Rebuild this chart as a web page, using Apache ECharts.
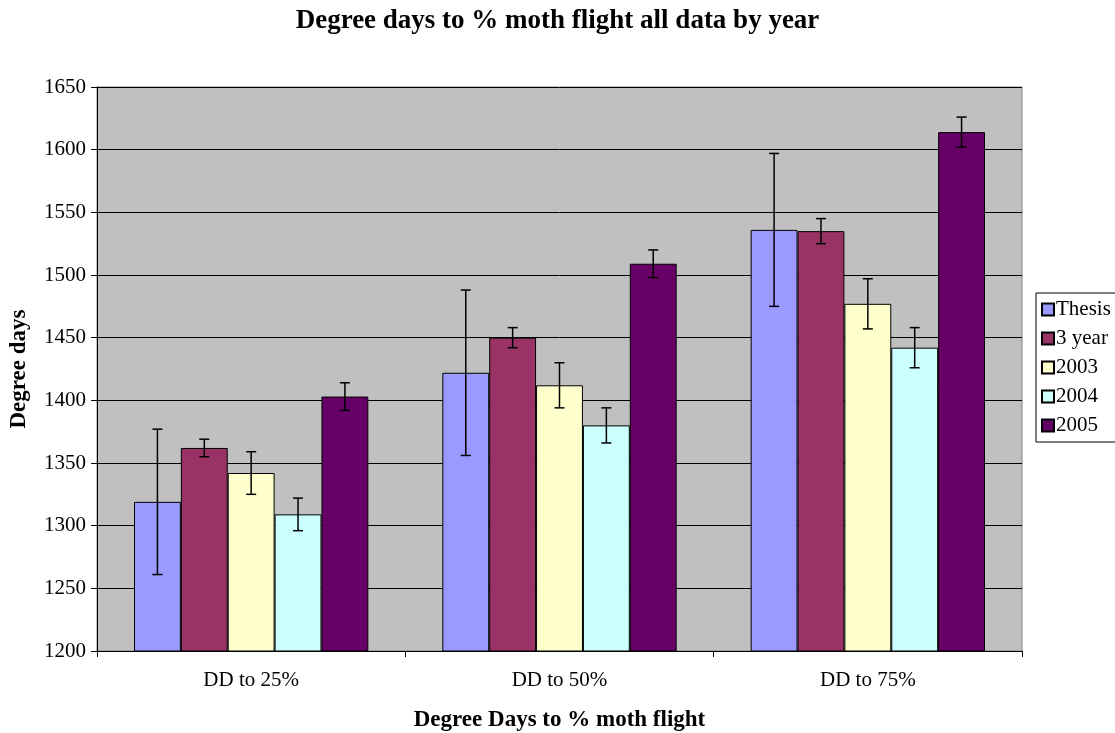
<!DOCTYPE html>
<html>
<head>
<meta charset="utf-8">
<script src="https://cdn.jsdelivr.net/npm/echarts@6/dist/echarts.min.js"></script>
<style>
  html, body { margin: 0; padding: 0; background: #fff; }
  #chart { width: 1115px; height: 733px; }
</style>
</head>
<body>
<div id="chart"></div>
<script>
const categories = ['DD to 25%', 'DD to 50%', 'DD to 75%']
const seriesNames = ['Thesis', '3 year', '2003', '2004', '2005']
const colors = ['#9999FF', '#993366', '#FFFFCC', '#CCFFFF', '#660066']

// mean values
const thesis = [1319, 1422, 1536]
const threeYear = [1362, 1450, 1535]
const y2003 = [1342, 1412, 1477]
const y2004 = [1309, 1380, 1442]
const y2005 = [1403, 1509, 1614]

// +/- error
const thesisErr = [58, 66, 61]
const threeYearErr = [7, 8, 10]
const y2003Err = [17, 18, 20]
const y2004Err = [13, 14, 16]
const y2005Err = [11, 11, 12]

const values = [thesis, threeYear, y2003, y2004, y2005]
const errors = [thesisErr, threeYearErr, y2003Err, y2004Err, y2005Err]

const font = 'Liberation Serif, Times New Roman, serif'
const catGap = 0.24

const chart = echarts.init(document.getElementById('chart'))

const barSeries = seriesNames.map((name, i) => ({
  name,
  type: 'bar',
  data: values[i],
  barGap: '0%',
  barCategoryGap: (catGap * 100) + '%',
  itemStyle: { color: colors[i], borderColor: '#000', borderWidth: 1 },
  emphasis: { disabled: true }
}))

const errorSeries = seriesNames.map((name, k) => ({
  type: 'custom',
  name: name + ' err',
  z: 5,
  data: values[k].map((v, j) => [j, v - errors[k][j], v + errors[k][j]]),
  renderItem (params, api) {
    const x = api.value(0)
    const lo = api.coord([x, api.value(1)])
    const hi = api.coord([x, api.value(2)])
    const bw = api.size([1, 0])[0] * (1 - catGap) / seriesNames.length
    const cx = lo[0] + (k - 2) * bw
    const half = 5
    const style = { stroke: '#000', lineWidth: 1.5 }
    return {
      type: 'group',
      children: [
        { type: 'line', shape: { x1: cx, y1: lo[1], x2: cx, y2: hi[1] }, style },
        { type: 'line', shape: { x1: cx - half, y1: lo[1], x2: cx + half, y2: lo[1] }, style },
        { type: 'line', shape: { x1: cx - half, y1: hi[1], x2: cx + half, y2: hi[1] }, style }
      ]
    }
  }
}))

const option = {
  animation: false,
  textStyle: { fontFamily: font },
  title: {
    text: 'Degree days to % moth flight all data by year',
    left: 'center',
    top: 3,
    textStyle: { fontFamily: font, fontSize: 27, fontWeight: 'bold', color: '#000' }
  },
  legend: {
    data: seriesNames,
    orient: 'vertical',
    left: 1036,
    top: 293,
    padding: [6, 6, 6, 5],
    itemGap: 8,
    itemWidth: 12,
    itemHeight: 12,
    icon: 'rect',
    borderColor: '#000',
    borderWidth: 1,
    backgroundColor: '#fff',
    textStyle: { fontFamily: font, fontSize: 21, color: '#000', padding: [0, 0, 0, -3] }
  },
  grid: {
    left: 97,
    right: 93,
    top: 87,
    bottom: 82,
    outerBoundsMode: 'none',
    show: true,
    backgroundColor: '#C0C0C0',
    borderColor: '#808080',
    borderWidth: 1
  },
  xAxis: {
    type: 'category',
    data: categories,
    name: 'Degree Days to % moth flight',
    nameLocation: 'middle',
    nameGap: 58,
    nameTextStyle: { fontFamily: font, fontSize: 23, fontWeight: 'bold', color: '#000' },
    axisLine: { lineStyle: { color: '#000', width: 1 } },
    axisTick: { show: true, length: 6, lineStyle: { color: '#000' } },
    axisLabel: { color: '#000', fontSize: 21, fontFamily: font, margin: 19 }
  },
  yAxis: {
    type: 'value',
    min: 1200,
    max: 1650,
    interval: 50,
    name: 'Degree days',
    nameLocation: 'middle',
    nameGap: 66,
    nameTextStyle: { fontFamily: font, fontSize: 23, fontWeight: 'bold', color: '#000' },
    axisLine: { show: true, lineStyle: { color: '#000', width: 1 } },
    axisTick: { show: true, length: 6, lineStyle: { color: '#000' } },
    axisLabel: { color: '#000', fontSize: 21, fontFamily: font, margin: 11, formatter: v => String(v) },
    splitLine: { show: true, lineStyle: { color: '#000', width: 1 } }
  },
  series: barSeries.concat(errorSeries)
}

chart.setOption(option)
</script>
</body>
</html>
